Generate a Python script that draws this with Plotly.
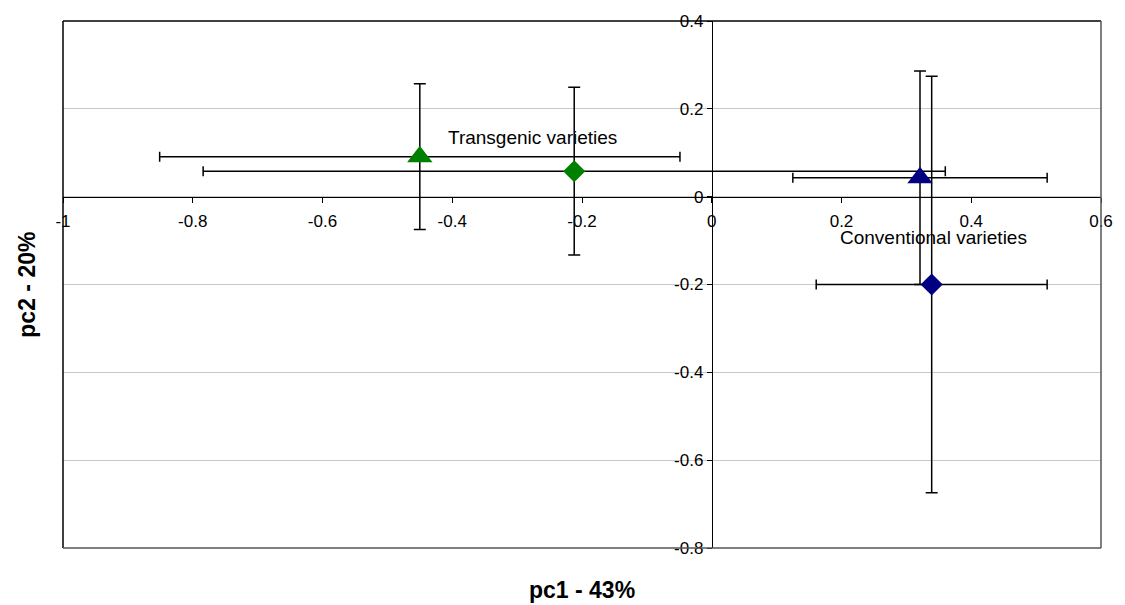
import plotly.graph_objects as go

# ---- data ----
groups = ["Transgenic varieties", "Conventional varieties"]
symbols = ["triangle-up", "diamond"]

trans_pc1 = [-0.450, -0.212]
trans_pc2 = [0.091, 0.058]
trans_pc1_err = [0.401, 0.572]
trans_pc2_err = [0.166, 0.191]

conv_pc1 = [0.321, 0.339]
conv_pc2 = [0.043, -0.200]
conv_pc1_err = [0.196, 0.178]
conv_pc2_err = [0.243, 0.474]

x_tickvals = [-1, -0.8, -0.6, -0.4, -0.2, 0, 0.2, 0.4, 0.6]
x_ticktext = ["-1", "-0.8", "-0.6", "-0.4", "-0.2", "0", "0.2", "0.4", "0.6"]
y_tickvals = [-0.8, -0.6, -0.4, -0.2, 0, 0.2, 0.4]
y_ticktext = ["-0.8", "-0.6", "-0.4", "-0.2", "0", "0.2", "0.4"]

x_range = [-1, 0.6]
y_range = [-0.8, 0.4]

FONT = "Arial, Liberation Sans, sans-serif"

fig = go.Figure()


def add_group(name, xs, ys, ex, ey, color):
    fig.add_trace(go.Scatter(
        x=xs, y=ys, mode="markers", name=name, opacity=1,
        marker=dict(symbol=symbols, size=[22, 17], color=color, opacity=1,
                    line=dict(width=0)),
        error_x=dict(type="data", array=ex, symmetric=True,
                     color="black", thickness=1.5, width=5),
        error_y=dict(type="data", array=ey, symmetric=True,
                     color="black", thickness=1.5, width=6),
        showlegend=False, cliponaxis=False,
    ))


add_group(groups[0], trans_pc1, trans_pc2, trans_pc1_err, trans_pc2_err, "#008000")
add_group(groups[1], conv_pc1, conv_pc2, conv_pc1_err, conv_pc2_err, "#000080")

# position of the crossing axes (zero) in domain fractions
x_axis_pos = (0 - y_range[0]) / (y_range[1] - y_range[0])
y_axis_pos = (0 - x_range[0]) / (x_range[1] - x_range[0])

plot_w = 1125 - 63 - 19
plot_h = 605 - 19 - 57

fig.update_layout(
    width=1125, height=605,
    margin=dict(l=63, r=19, t=19, b=57),
    paper_bgcolor="white", plot_bgcolor="white",
    font=dict(family=FONT, size=17, color="black"),
    xaxis=dict(
        range=x_range, domain=[0, 1], anchor="free", position=x_axis_pos,
        tickmode="array", tickvals=x_tickvals, ticktext=x_ticktext,
        ticks="outside", ticklen=5, tickcolor="black", tickwidth=1,
        ticklabelstandoff=4,
        showline=True, linecolor="black", linewidth=1,
        showgrid=False, zeroline=False,
        tickfont=dict(family=FONT, size=17, color="black"),
    ),
    yaxis=dict(
        range=y_range, domain=[0, 1], anchor="free", position=y_axis_pos,
        tickmode="array", tickvals=y_tickvals, ticktext=y_ticktext,
        ticks="outside", ticklen=5, tickcolor="black", tickwidth=1,
        showline=True, linecolor="black", linewidth=1,
        showgrid=True, gridcolor="#c8c8c8", gridwidth=1,
        zeroline=False,
        tickfont=dict(family=FONT, size=17, color="black"),
    ),
    shapes=[
        dict(type="line", xref="paper", yref="paper", x0=0, x1=1, y0=1, y1=1,
             line=dict(color="black", width=1.5)),
        dict(type="line", xref="paper", yref="paper", x0=0, x1=0, y0=0, y1=1,
             line=dict(color="black", width=1.5)),
        dict(type="line", xref="paper", yref="paper", x0=0, x1=1, y0=0, y1=0,
             line=dict(color="#555555", width=1.5)),
        dict(type="line", xref="paper", yref="paper", x0=1, x1=1, y0=0, y1=1,
             line=dict(color="#555555", width=1.5)),
    ],
    annotations=[
        dict(text="Transgenic varieties", x=-0.409, y=0.135, xref="x", yref="y",
             xanchor="left", yanchor="middle", showarrow=False,
             font=dict(family=FONT, size=19, color="black")),
        dict(text="Conventional varieties", x=0.195, y=-0.093, xref="x", yref="y",
             xanchor="left", yanchor="middle", showarrow=False,
             font=dict(family=FONT, size=19, color="black")),
        dict(text="<b>pc1 - 43%</b>", x=0.5, xref="paper",
             y=(605 - 57 - 590) / plot_h, yref="paper", yanchor="middle",
             showarrow=False, font=dict(family=FONT, size=23, color="black")),
        dict(text="<b>pc2 - 20%</b>", x=(26 - 63) / plot_w, xref="paper",
             xanchor="center", y=0.5, yref="paper", textangle=-90,
             showarrow=False, font=dict(family=FONT, size=23, color="black")),
    ],
)

fig.write_html("out.html")
